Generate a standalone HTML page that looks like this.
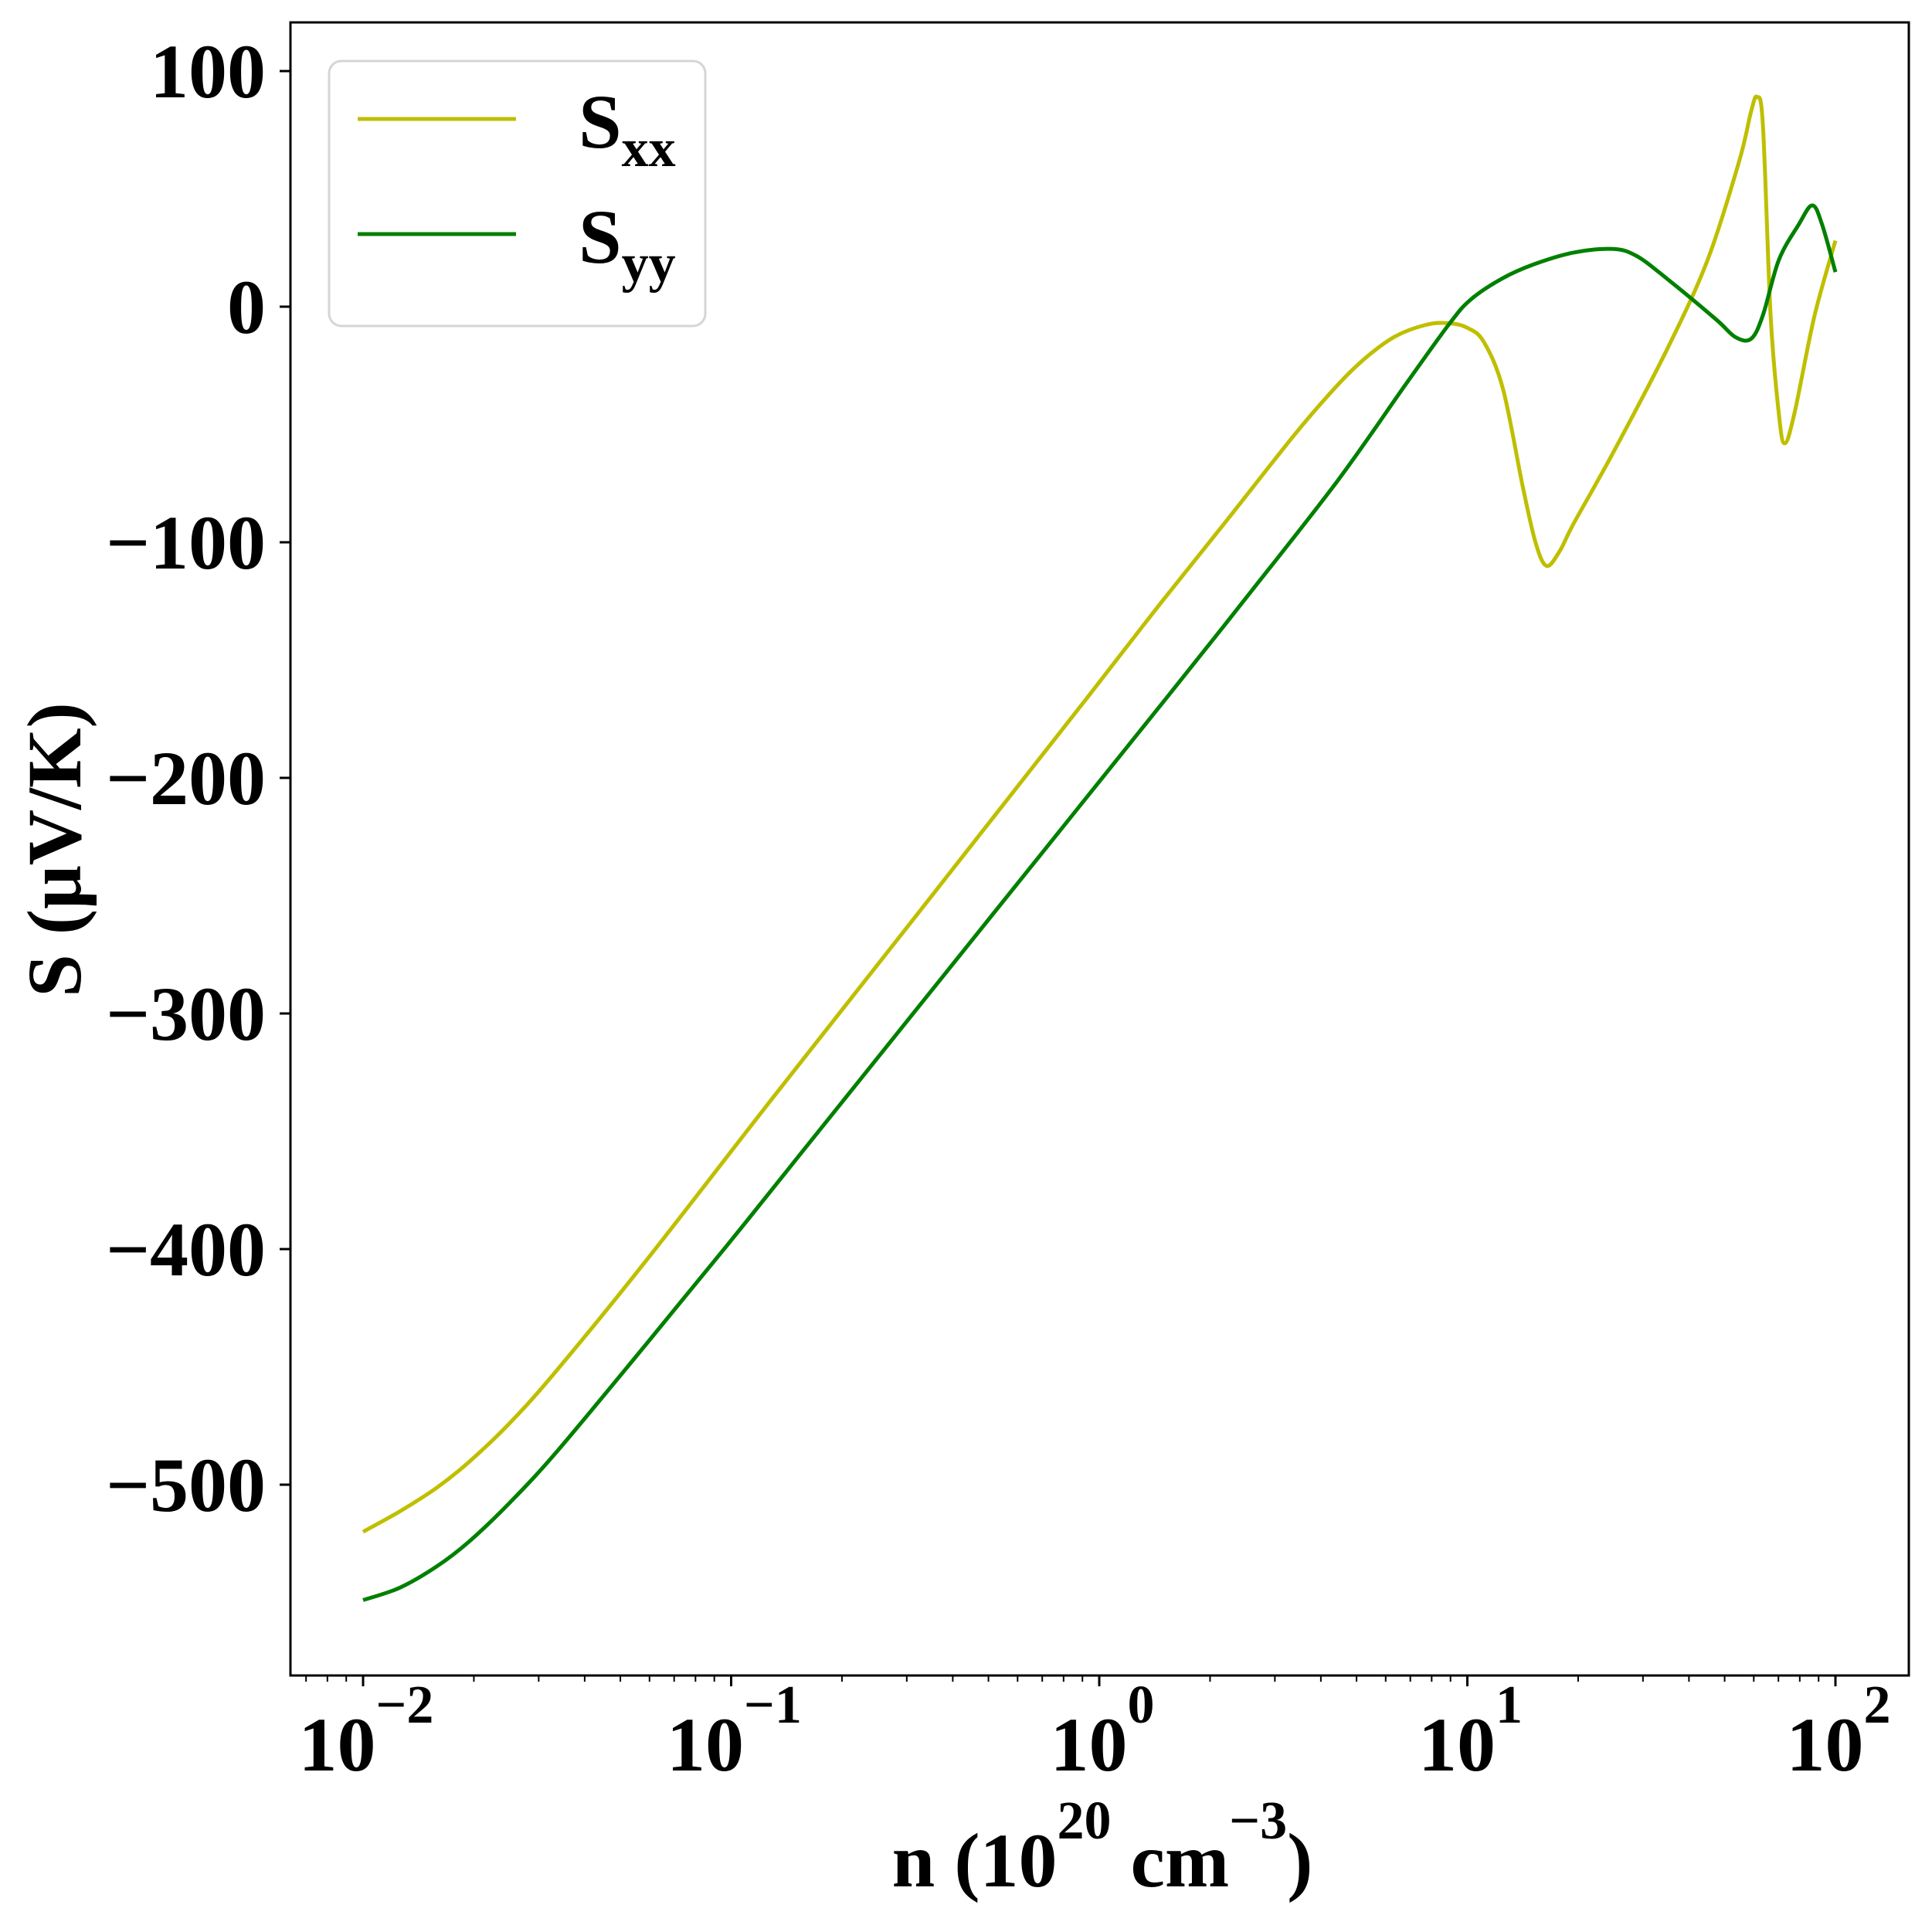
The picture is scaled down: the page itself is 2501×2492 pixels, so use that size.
<!DOCTYPE html>
<html><head><meta charset="utf-8"><style>
html,body{margin:0;padding:0;background:#fff}
svg{display:block;font-family:"Liberation Serif",serif;font-weight:bold}
</style></head><body>
<svg id="chart" width="2501" height="2492" viewBox="0 0 2501 2492" xmlns="http://www.w3.org/2000/svg">
<rect width="2501" height="2492" fill="#fff"/>
<g id="marks"></g>
<g id="axes"></g>
<rect x="376" y="29" width="2095" height="2140" fill="none" stroke="#000" stroke-width="3"/>
<g>
<rect x="426" y="79" width="487" height="343" rx="16" fill="#fff" fill-opacity="0.8" stroke="#d5d5d5" stroke-width="3"/>
<line x1="463" y1="154" x2="668" y2="154" stroke="#bfbf00" stroke-width="5"/>
<text x="749" y="191" font-size="100">S<tspan font-size="70" dy="24">xx</tspan></text>
<line x1="463" y1="303" x2="668" y2="303" stroke="#008000" stroke-width="5"/>
<text x="749" y="340" font-size="100">S<tspan font-size="70" dy="24">yy</tspan></text>
</g>
<text transform="translate(104,1100) rotate(-90)" text-anchor="middle" font-size="100">S (μV/K)</text>
<text x="1427" y="2442" text-anchor="middle" font-size="100">n (10<tspan font-size="70" dy="-62">20</tspan><tspan dy="62"> cm</tspan><tspan font-size="70" dy="-62">−3</tspan><tspan dy="62">)</tspan></text>
</svg>
<script>
const sxxLogN = [-2.0,-1.9,-1.8,-1.711,-1.6,-1.47,-1.229,-0.888,-0.5,-0.028,0.166,0.35,0.527,0.62,0.707,0.8,0.888,0.95,1.0,1.045,1.097,1.150,1.185,1.215,1.25,1.289,1.396,1.546,1.653,1.739,1.771,1.787,1.803,1.824,1.846,1.862,1.889,1.943,2.0];
const sxxVals = [-520,-511.3,-501.3,-490.2,-473.6,-450.8,-404.5,-336,-259,-165,-126,-90,-55,-38,-24,-13,-7.7,-7,-9,-15,-35,-76,-100,-110,-104,-92,-62,-17,20,62,83,89,77,-4,-45,-58,-45,-4,28];
const syyLogN = [-2.0,-1.9,-1.8,-1.711,-1.6,-1.47,-1.229,-1.014,-0.824,-0.3,0.188,0.407,0.647,0.828,0.949,1.009,1.095,1.181,1.289,1.396,1.461,1.546,1.675,1.728,1.771,1.803,1.846,1.900,1.937,1.964,2.0];
const syyVals = [-549,-543.7,-534.7,-524,-507.4,-485.3,-440,-399,-362,-260,-165,-122,-74,-34,-7.7,3,12,18,23,24.5,21.4,11.4,-5.3,-12.9,-13.6,-3.6,19.7,34.8,43,34.8,14.7];
const yTicks = [100,0,-100,-200,-300,-400,-500];
const yTickLabels = ["100","0","−100","−200","−300","−400","−500"];
const xDecades = [-2,-1,0,1,2];
const xTickLabels = ["−2","−1","0","1","2"];

const X0=470, DEC=476.5, Y0=397, YS=3.05;
function xs(l){return X0+(l+2)*DEC;}
function ys(v){return Y0-v*YS;}
const NS="http://www.w3.org/2000/svg";
function pathFrom(lx,vy){
  const p=lx.map((l,i)=>[xs(l),ys(vy[i])]);
  let d="M"+p[0][0].toFixed(1)+","+p[0][1].toFixed(1);
  for(let i=0;i<p.length-1;i++){
    const p0=p[Math.max(0,i-1)],p1=p[i],p2=p[i+1],p3=p[Math.min(p.length-1,i+2)];
    const c1=[p1[0]+(p2[0]-p0[0])/6,p1[1]+(p2[1]-p0[1])/6];
    const c2=[p2[0]-(p3[0]-p1[0])/6,p2[1]-(p3[1]-p1[1])/6];
    d+=" C"+c1.map(v=>v.toFixed(1))+" "+c2.map(v=>v.toFixed(1))+" "+p2.map(v=>v.toFixed(1));
  }
  return d;
}
const marks=document.getElementById('marks');
const axes=document.getElementById('axes');
const l1=document.createElementNS(NS,'path');


l1.setAttribute('d',pathFrom(sxxLogN,sxxVals));
l1.setAttribute('fill','none');l1.setAttribute('stroke','#bfbf00');l1.setAttribute('stroke-width','5');
marks.appendChild(l1);
const l2=document.createElementNS(NS,'path');


l2.setAttribute('d',pathFrom(syyLogN,syyVals));
l2.setAttribute('fill','none');l2.setAttribute('stroke','#008000');l2.setAttribute('stroke-width','5');
marks.appendChild(l2);

yTicks.forEach((v,i)=>{
  const t=document.createElementNS(NS,'line');
  
  
  t.setAttribute('x1',362);t.setAttribute('x2',376);t.setAttribute('y1',ys(v));t.setAttribute('y2',ys(v));
  t.setAttribute('stroke','#000');t.setAttribute('stroke-width','3');
  axes.appendChild(t);
  const tx=document.createElementNS(NS,'text');
  
  
  tx.setAttribute('x',344);tx.setAttribute('y',ys(v)+34);tx.setAttribute('text-anchor','end');tx.setAttribute('font-size','100');
  tx.textContent=yTickLabels[i];
  axes.appendChild(tx);
});
const lmin=-2-(X0-376)/DEC, lmax=2+(2471-xs(2))/DEC;
for(let d=-3;d<=2;d++){
  for(let k=1;k<10;k++){
    const l=d+Math.log10(k);
    if(l<lmin||l>lmax) continue;
    const major=(k===1);
    const t=document.createElementNS(NS,'line');
    
    
    t.setAttribute('x1',xs(l));t.setAttribute('x2',xs(l));t.setAttribute('y1',2169);t.setAttribute('y2',major?2183:2177);
    t.setAttribute('stroke','#000');t.setAttribute('stroke-width',major?3:2);
    axes.appendChild(t);
  }
}
xDecades.forEach((d,i)=>{
  const tx=document.createElementNS(NS,'text');
  
  
  tx.setAttribute('x',xs(d)+4);tx.setAttribute('y',2292);tx.setAttribute('text-anchor','middle');tx.setAttribute('font-size','100');
  tx.innerHTML='10<tspan font-size="70" dy="-62">'+xTickLabels[i]+'</tspan>';
  axes.appendChild(tx);
});
</script>
</body></html>
